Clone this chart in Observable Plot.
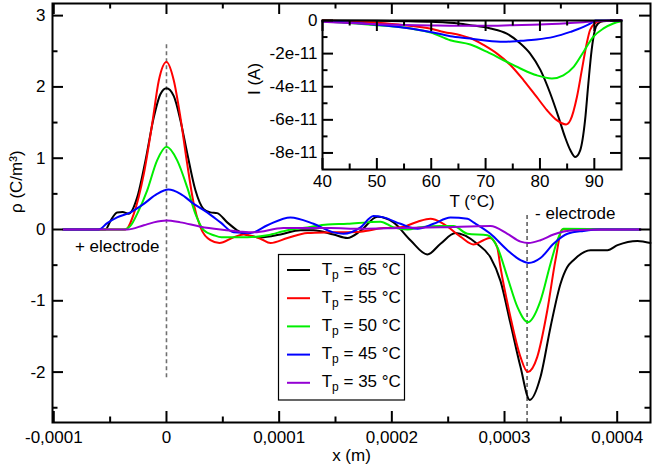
<!DOCTYPE html>
<html>
<head>
<meta charset="utf-8">
<script src="https://cdn.jsdelivr.net/npm/d3@7"></script>
<script src="https://cdn.jsdelivr.net/npm/@observablehq/plot@0.6"></script>
<style>
  body { margin: 0; background: #fff; }
  #chart { position: relative; width: 654px; height: 466px; }
  #inset { position: absolute; left: 240px; top: 0px; }
</style>
</head>
<body>
<div id="chart"><div id="inset"></div></div>
<script>
// ---------- main chart data: charge density rho (C/m^3) vs position x (m) ----------
const seriesNames = ["Tp = 65 °C", "Tp = 55 °C", "Tp = 50 °C", "Tp = 45 °C", "Tp = 35 °C"];
const legendTemps = ["65", "55", "50", "45", "35"];
const seriesColors = ["#000000", "#ff0000", "#00ee00", "#0000ff", "#9400d3"];

const x65 = [-0.914e-4,-0.541e-4,-0.497e-4,-0.438e-4,-0.390e-4,-0.335e-4,-0.260e-4,-0.186e-4,-0.113e-4,-0.053e-4,0,0.065e-4,0.124e-4,0.184e-4,0.257e-4,0.328e-4,0.390e-4,0.450e-4,0.539e-4,0.627e-4,0.657e-4,0.834e-4,1.012e-4,1.189e-4,1.305e-4,1.482e-4,1.606e-4,1.722e-4,1.873e-4,2.015e-4,2.165e-4,2.316e-4,2.432e-4,2.565e-4,2.757e-4,2.875e-4,2.964e-4,3.053e-4,3.142e-4,3.224e-4,3.319e-4,3.408e-4,3.497e-4,3.556e-4,3.612e-4,3.763e-4,3.914e-4,4.003e-4,4.180e-4,4.295e-4];
const rho65 = [0,0,0.12,0.24,0.245,0.22,0.45,0.97,1.57,1.90,1.98,1.87,1.53,1.07,0.55,0.29,0.24,0.23,0.10,-0.01,-0.04,-0.11,-0.07,-0.01,-0.01,-0.07,-0.12,-0.02,0.18,0.10,-0.15,-0.35,-0.20,-0.05,-0.20,-0.39,-0.72,-1.32,-1.93,-2.39,-2.07,-1.37,-0.76,-0.53,-0.43,-0.29,-0.29,-0.22,-0.16,-0.19];

const x55 = [-0.914e-4,-0.364e-4,-0.290e-4,-0.201e-4,-0.127e-4,-0.068e-4,0,0.065e-4,0.124e-4,0.184e-4,0.242e-4,0.302e-4,0.390e-4,0.470e-4,0.595e-4,0.683e-4,0.834e-4,0.923e-4,1.074e-4,1.251e-4,1.482e-4,1.722e-4,1.926e-4,2.077e-4,2.228e-4,2.343e-4,2.458e-4,2.609e-4,2.724e-4,2.813e-4,2.870e-4,2.935e-4,2.964e-4,3.053e-4,3.142e-4,3.206e-4,3.290e-4,3.379e-4,3.452e-4,3.512e-4,4.206e-4];
const rho55 = [0,0,0.22,0.78,1.48,2.09,2.35,2.09,1.57,0.92,0.36,0.03,-0.15,-0.19,-0.11,-0.07,-0.13,-0.19,-0.12,-0.05,-0.04,-0.03,0.02,0.03,0.11,0.15,0.08,-0.10,-0.21,-0.15,-0.12,-0.25,-0.53,-1.23,-1.79,-2.0,-1.79,-1.14,-0.43,0.0,0];

const x50 = [-0.914e-4,-0.379e-4,-0.320e-4,-0.260e-4,-0.171e-4,-0.083e-4,0,0.095e-4,0.184e-4,0.257e-4,0.331e-4,0.420e-4,0.488e-4,0.719e-4,0.896e-4,1.074e-4,1.251e-4,1.429e-4,1.606e-4,1.784e-4,1.899e-4,2.015e-4,2.139e-4,2.254e-4,2.432e-4,2.547e-4,2.671e-4,2.848e-4,2.937e-4,3.026e-4,3.115e-4,3.206e-4,3.319e-4,3.408e-4,3.479e-4,3.523e-4,4.206e-4];
const rho50 = [0,0,0.05,0.22,0.55,0.97,1.16,0.97,0.59,0.22,-0.01,-0.08,-0.11,-0.11,-0.08,-0.01,0.03,0.07,0.08,0.10,0.11,0.03,0.0,0.03,0.05,0.05,-0.06,-0.08,-0.25,-0.67,-1.09,-1.30,-1.0,-0.48,-0.11,0.01,0];

const x45 = [-0.914e-4,-0.601e-4,-0.526e-4,-0.438e-4,-0.320e-4,-0.201e-4,-0.083e-4,0.018e-4,0.124e-4,0.242e-4,0.361e-4,0.479e-4,0.597e-4,0.745e-4,0.896e-4,1.100e-4,1.305e-4,1.482e-4,1.571e-4,1.722e-4,1.837e-4,1.926e-4,2.077e-4,2.228e-4,2.370e-4,2.520e-4,2.671e-4,2.724e-4,2.875e-4,3.026e-4,3.142e-4,3.213e-4,3.319e-4,3.435e-4,3.559e-4,3.701e-4,3.852e-4,4.206e-4];
const rho45 = [0,0,0.09,0.17,0.24,0.36,0.50,0.56,0.50,0.36,0.24,0.10,-0.04,-0.05,0.06,0.17,0.08,-0.04,-0.06,0.03,0.19,0.17,0.08,0.01,0.08,0.17,0.15,0.10,-0.06,-0.29,-0.43,-0.47,-0.40,-0.20,-0.06,-0.02,0,0];

const x35 = [-0.914e-4,-0.349e-4,-0.201e-4,-0.113e-4,0,0.124e-4,0.302e-4,0.479e-4,0.657e-4,0.772e-4,1.038e-4,1.455e-4,1.722e-4,2.077e-4,2.432e-4,2.875e-4,3.026e-4,3.142e-4,3.213e-4,3.319e-4,3.435e-4,3.612e-4,3.852e-4,4.206e-4];
const rho35 = [0,0,0.06,0.10,0.126,0.10,0.04,0.0,-0.03,-0.04,0.02,0.02,0.01,0.02,0.03,0.05,-0.06,-0.17,-0.19,-0.15,-0.07,-0.01,0,0];

// ticks
const xTicksMajor = [-1e-4, 0, 1e-4, 2e-4, 3e-4, 4e-4];
const xTickLabels = ["-0,0001", "0", "0,0001", "0,0002", "0,0003", "0,0004"];
const xTicksMinor = [-0.5e-4, 0.5e-4, 1.5e-4, 2.5e-4, 3.5e-4];
const yTicksMajor = [-2, -1, 0, 1, 2, 3];
const yTickLabels = ["-2", "-1", "0", "1", "2", "3"];
const yTicksMinor = [-2.5, -1.5, -0.5, 0.5, 1.5, 2.5];

// electrode markers and annotations
const electrodeX = [0, 3.2e-4];
const electrodeTop = [2.6, 0.21];
const electrodeBottom = [-2.08, -2.707];
const electrodeLabels = ["+ electrode", "- electrode"];
const electrodeLabelY = [-0.24, 0.226];

// ---------- inset data: current I (A) vs temperature T (°C) ----------
const T65 = [40,50,55,60,65,67.2,70.9,73.9,76.4,78.2,80.1,81.9,83.4,84.6,85.6,86.5,87.4,88.3,88.9,89.5,90.1,90.7,91.6,95];
const I65 = [0,-0.02e-11,-0.04e-11,-0.08e-11,-0.18e-11,-0.28e-11,-0.48e-11,-0.79e-11,-1.39e-11,-2.0e-11,-3.0e-11,-4.41e-11,-5.82e-11,-7.03e-11,-7.84e-11,-8.24e-11,-7.84e-11,-6.02e-11,-3.81e-11,-1.8e-11,-0.59e-11,-0.18e-11,-0.05e-11,0];
const T55 = [40,45,50,55,60,62.3,65.4,67.5,69.7,72.1,74.6,77,79.4,81.3,83.1,84.8,85.6,86.8,87.7,88.6,89.2,90.1,91,95];
const I55 = [0,-0.05e-11,-0.14e-11,-0.28e-11,-0.5e-11,-0.69e-11,-0.89e-11,-1.1e-11,-1.49e-11,-2.0e-11,-2.7e-11,-3.61e-11,-4.62e-11,-5.42e-11,-6.02e-11,-6.28e-11,-6.02e-11,-4.62e-11,-3.0e-11,-1.39e-11,-0.59e-11,-0.18e-11,-0.05e-11,0];
const T50 = [40,45,50,56.2,59.9,63.5,67.2,70.3,73.3,76.4,79.4,82.2,84.3,86.2,88,89.8,91.7,93.5,95];
const I50 = [-0.05e-11,-0.15e-11,-0.28e-11,-0.48e-11,-0.72e-11,-1.19e-11,-1.45e-11,-1.9e-11,-2.4e-11,-2.9e-11,-3.31e-11,-3.5e-11,-3.31e-11,-2.8e-11,-1.9e-11,-0.99e-11,-0.48e-11,-0.18e-11,-0.05e-11];
const T45 = [40,45,50,56.2,59.9,63.5,67.2,70.3,73.3,76.4,79.4,82.5,85.6,88,89.8,90.2,95];
const I45 = [-0.05e-11,-0.12e-11,-0.25e-11,-0.48e-11,-0.69e-11,-0.95e-11,-1.09e-11,-1.23e-11,-1.29e-11,-1.23e-11,-1.15e-11,-0.99e-11,-0.69e-11,-0.39e-11,-0.08e-11,0,0];
const T35 = [40,45,50,55,60,65,70,75,80,85,88,90,95];
const I35 = [-0.08e-11,-0.15e-11,-0.22e-11,-0.27e-11,-0.3e-11,-0.32e-11,-0.32e-11,-0.28e-11,-0.24e-11,-0.16e-11,-0.1e-11,-0.05e-11,0];

const insetXTicksMajor = [40, 50, 60, 70, 80, 90];
const insetXTickLabels = ["40", "50", "60", "70", "80", "90"];
const insetXTicksMinor = [45, 55, 65, 75, 85];
const insetYTicksMajor = [0, -2e-11, -4e-11, -6e-11, -8e-11];
const insetYTickLabels = ["0", "-2e-11", "-4e-11", "-6e-11", "-8e-11"];
const insetYTicksMinor = [-1e-11, -3e-11, -5e-11, -7e-11];

// ---------- build tables ----------
const mainXs = [x65, x55, x50, x45, x35];
const mainYs = [rho65, rho55, rho50, rho45, rho35];
const mainData = [];
mainXs.forEach((xs, s) => xs.forEach((x, i) => mainData.push({series: seriesNames[s], x, y: mainYs[s][i]})));

const insetXs = [T65, T55, T50, T45, T35];
const insetYs = [I65, I55, I50, I45, I35];
const insetData = [];
insetXs.forEach((ts, s) => ts.forEach((t, i) => insetData.push({series: seriesNames[s], x: t, y: insetYs[s][i]})));

const electrodes = electrodeX.map((x, i) => ({x, top: electrodeTop[i], bottom: electrodeBottom[i], label: electrodeLabels[i], ly: electrodeLabelY[i]}));

const FONT = "'Liberation Sans', Arial, Helvetica, sans-serif";
const FS = 17;

// ---------- main plot ----------
const W = 654, H = 466, mL = 52, mR = 4, mT = 3, mB = 44;
const fw = W - mL - mR, fh = H - mT - mB;
const majorLen = 11, minorLen = 5.5;

function frameTicks(xMaj, xMin, yMaj, yMin, fw, fh) {
  const marks = [];
  for (const [ticks, len] of [[xMaj, majorLen], [xMin, minorLen]]) {
    marks.push(Plot.tickX(ticks, {x: d => d, insetTop: fh - len, stroke: "black", strokeWidth: 2}));
    marks.push(Plot.tickX(ticks, {x: d => d, insetBottom: fh - len, stroke: "black", strokeWidth: 2}));
  }
  for (const [ticks, len] of [[yMaj, majorLen], [yMin, minorLen]]) {
    marks.push(Plot.tickY(ticks, {y: d => d, insetRight: fw - len, stroke: "black", strokeWidth: 2}));
    marks.push(Plot.tickY(ticks, {y: d => d, insetLeft: fw - len, stroke: "black", strokeWidth: 2}));
  }
  return marks;
}

const main = Plot.plot({
  width: W, height: H,
  marginLeft: mL, marginRight: mR, marginTop: mT, marginBottom: mB,
  style: {fontFamily: FONT, background: "white", color: "black"},
  x: {domain: [-1.0115e-4, 4.2955e-4]},
  y: {domain: [-2.707, 3.17]},
  color: {domain: seriesNames, range: seriesColors},
  marks: [
    Plot.ruleX(electrodes.slice(0, 1), {x: "x", y1: "bottom", y2: "top", stroke: "#707070", strokeWidth: 1.6, strokeDasharray: "4,3"}),
    Plot.ruleX(electrodes.slice(1), {x: "x", y1: "bottom", y2: "top", stroke: "black", strokeWidth: 1, strokeDasharray: "4,3"}),
    Plot.line(mainData, {x: "x", y: "y", z: "series", stroke: "series", strokeWidth: 2, curve: "monotone-x"}),
    Plot.text(electrodes.slice(0, 1), {x: "x", y: "ly", text: "label", textAnchor: "end", dx: -7, fontSize: FS}),
    Plot.text(electrodes.slice(1), {x: "x", y: "ly", text: "label", textAnchor: "start", dx: 8, fontSize: FS}),
    Plot.frame({stroke: "black", strokeWidth: 2}),
    ...frameTicks(xTicksMajor, xTicksMinor, yTicksMajor, yTicksMinor, fw, fh),
    Plot.axisX({ticks: xTicksMajor, tickSize: 0, tickPadding: 8, fontSize: FS, label: null,
      tickFormat: d => xTickLabels[xTicksMajor.indexOf(d)]}),
    Plot.axisY({ticks: yTicksMajor, tickSize: 0, tickPadding: 7, fontSize: FS, label: null,
      tickFormat: d => yTickLabels[yTicksMajor.indexOf(d)]}),
    Plot.text(["x (m)"], {text: d => d, frameAnchor: "bottom", dy: 38, fontSize: FS}),
    Plot.text(["ρ (C/m³)"], {text: d => d, frameAnchor: "left", rotate: -90, dx: -36, fontSize: FS})
  ]
});
const mainSvg = main.tagName.toLowerCase() === "svg" ? main : main.querySelector("svg");
document.getElementById("chart").insertBefore(main, document.getElementById("inset"));

// legend
const lg = d3.select(mainSvg).append("g")
  .attr("font-family", FONT).attr("font-size", FS).attr("text-anchor", "start");
lg.append("rect").attr("x", 278.5).attr("y", 254.5).attr("width", 126).attr("height", 145.5)
  .attr("fill", "white").attr("stroke", "black").attr("stroke-width", 1.2);
legendTemps.forEach((t, i) => {
  const y = 270 + i * 28.2;
  lg.append("line").attr("x1", 287).attr("x2", 310).attr("y1", y).attr("y2", y)
    .attr("stroke", seriesColors[i]).attr("stroke-width", 2);
  const tx = lg.append("text").attr("x", 321.7).attr("y", y + 4.5)
    .attr("fill", "black").attr("text-anchor", "start");
  tx.append("tspan").text("T");
  tx.append("tspan").attr("font-size", 12).attr("dy", 4).text("p");
  tx.append("tspan").attr("dy", -4).text(" = " + t + " °C");
});

// ---------- inset plot ----------
const iW = 400, iH = 215, imL = 82, imR = 19, imT = 20, imB = 46;
const ifw = iW - imL - imR, ifh = iH - imT - imB;
const inset = Plot.plot({
  width: iW, height: iH,
  marginLeft: imL, marginRight: imR, marginTop: imT, marginBottom: imB,
  style: {fontFamily: FONT, background: "transparent", color: "black"},
  x: {domain: [40, 95]},
  y: {domain: [-9e-11, 0]},
  color: {domain: seriesNames, range: seriesColors},
  marks: [
    Plot.line(insetData, {x: "x", y: "y", z: "series", stroke: "series", strokeWidth: 2, curve: "monotone-x"}),
    Plot.frame({stroke: "black", strokeWidth: 2}),
    ...frameTicks(insetXTicksMajor, insetXTicksMinor, insetYTicksMajor, insetYTicksMinor, ifw, ifh),
    Plot.axisX({ticks: insetXTicksMajor, tickSize: 0, tickPadding: 5, fontSize: FS, label: null,
      tickFormat: d => insetXTickLabels[insetXTicksMajor.indexOf(d)]}),
    Plot.axisY({ticks: insetYTicksMajor, tickSize: 0, tickPadding: 5, fontSize: FS, label: null,
      tickFormat: d => insetYTickLabels[insetYTicksMajor.indexOf(d)]}),
    Plot.text(["T (°C)"], {text: d => d, frameAnchor: "bottom", dy: 37, fontSize: FS}),
    Plot.text(["I (A)"], {text: d => d, frameAnchor: "left", rotate: -90, dx: -68, fontSize: FS})
  ]
});
document.getElementById("inset").appendChild(inset);
</script>
</body>
</html>
